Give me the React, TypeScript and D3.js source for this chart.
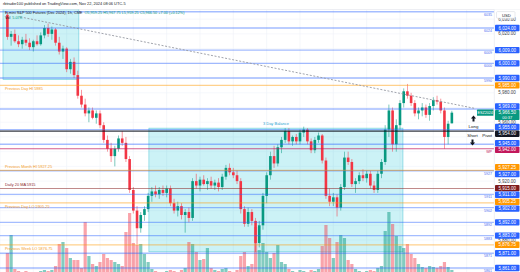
import React from 'react';
import * as d3 from 'd3';

// ---------- data ----------
const opens = [6033,6018,6020,6015,6013,6016,6014,6011,6015,6013,6019,6024,6020,6023,6014,6008,6010,5996,6001,5992,
5978,5972,5966,5968,5963,5966,5958,5948,5942,5937,5942,5949,5946,5935,5914,5900,5888,5897,5901,5910,
5913,5911,5914,5912,5915,5905,5900,5903,5897,5899,5895,5920,5917,5921,5918,5920,5917,5919,5916,5923,
5929,5926,5924,5920,5901,5891,5899,5893,5878,5890,5910,5924,5937,5932,5943,5948,5954,5947,5950,5947,
5953,5955,5947,5941,5948,5951,5934,5910,5906,5909,5902,5916,5936,5933,5918,5920,5924,5922,5925,5917,
5914,5925,5933,5955,5968,5945,5958,5973,5981,5978,5973,5966,5968,5970,5965,5971,5975,5974,5968,5950,5959.25];
const highs = [6035,6022,6023,6019,6018,6020,6017,6016,6019,6021,6026,6027,6025,6024,6018,6012,6011,6003,6004,5995,
5982,5976,5970,5970,5968,5968,5960,5951,5946,5944,5951,5954,5950,5937,5916,5903,5899,5903,5912,5916,
5917,5916,5917,5917,5917,5908,5906,5905,5901,5902,5922,5925,5923,5924,5922,5923,5921,5922,5925,5931,
5932,5929,5927,5922,5903,5902,5901,5895,5893,5912,5926,5940,5944,5945,5950,5956,5956,5951,5952,5955,
5957,5956,5949,5950,5953,5952,5936,5915,5912,5911,5918,5940,5940,5935,5922,5926,5928,5927,5927,5920,
5927,5935,5958,5972,5970,5962,5975,5983,5986,5980,5975,5970,5973,5972,5973,5977,5978,5976,5970,5961,5967.75];
const lows = [6016,6012,6014,6011,6010,6012,6009,6008,6012,6012,6017,6018,6016,6012,6006,6003,5994,5993,5990,5976,
5970,5964,5960,5962,5959,5956,5946,5940,5933,5930,5940,5944,5933,5912,5898,5877,5885,5893,5899,5906,
5909,5908,5910,5909,5903,5898,5896,5894,5885,5892,5893,5915,5913,5917,5914,5915,5914,5913,5914,5921,
5924,5922,5918,5898,5889,5889,5890,5872,5875,5887,5905,5921,5929,5930,5939,5946,5945,5944,5945,5945,
5950,5945,5939,5939,5946,5932,5908,5903,5903,5896,5900,5914,5931,5916,5912,5918,5920,5919,5915,5912,
5912,5922,5931,5950,5940,5940,5955,5970,5976,5971,5964,5962,5964,5963,5961,5968,5972,5966,5942,5945,5959.25];
const closes = [6018,6020,6015,6013,6016,6014,6011,6015,6013,6019,6024,6020,6023,6014,6008,6010,5996,6001,5992,5978,
5972,5966,5968,5963,5966,5958,5948,5942,5937,5942,5949,5946,5935,5914,5900,5888,5897,5901,5910,5913,
5911,5914,5912,5915,5905,5900,5903,5897,5899,5895,5920,5917,5921,5918,5920,5917,5919,5916,5923,5929,
5926,5924,5920,5901,5891,5899,5893,5878,5890,5910,5924,5937,5932,5943,5948,5954,5947,5950,5947,5953,
5955,5947,5941,5948,5951,5934,5910,5906,5909,5902,5916,5936,5933,5918,5920,5924,5922,5925,5917,5914,
5925,5933,5955,5968,5945,5958,5973,5981,5978,5973,5966,5968,5970,5965,5971,5975,5974,5968,5950,5959,5966.5];
const volumes = [23,41,7,5,4,5,4,3,4,5,6,5,6,10,32,34,28,18,16,16,
8,54,20,12,10,14,22,18,16,14,12,10,44,63,33,31,32,22,14,7,
5,4,4,5,6,5,4,6,8,34,32,24,16,17,28,8,6,5,7,8,
5,4,6,20,24,10,12,49,26,33,24,18,23,31,14,12,7,5,4,6,
5,4,6,5,7,30,51,38,18,34,41,38,16,12,7,5,4,5,6,5,
8,10,45,64,52,40,30,28,32,22,18,12,9,8,10,9,8,10,14,9,6];

const blueLevels = [6035, 6024, 6009, 6000, 5990, 5969, 5955, 5945, 5927, 5911, 5902, 5892, 5883, 5871, 5861];
const blueSmallLabelled = [6035, 6024, 6009, 6000, 5990, 5927, 5911, 5902, 5892, 5883, 5871, 5861];
const orangeLevels = [5985, 5927.25, 5905.25, 5876.75];
const orangeNames = ['Previous Day HI 5985', 'Previous Month HI 5927.25', 'Previous Day LO 5905.25', 'Previous Week LO 5876.75'];
const orangeAbove = [false, true, false, false];
const pivotLevel = 5954;
const wpLevel = 5942;
const maLevel = 5915;
const maName = 'Daily 20 MA 5915';
const lastPrice = 5966.5;
const countdown = '00:37';
const priceTicks = d3.range(5860, 6031, 10);
const gridTimes = d3.range(-2, 125, 9);
const trendTimes = [3.5, 126];
const trendPrices = [6031.5, 5969.5];
const boxTopLeft = { t0: -1.2, t1: 19.3, hi: 6037, lo: 5989 };
const boxBalance = { t0: 38.2, t1: 106.8, hi: 5956, lo: 5872 };
const headerText = 'rbtrader100 published on TradingView.com, Nov 22, 2024 08:06 UTC-5';
const legendName = 'E-mini S&P 500 Futures (Dec 2024), 1h, CME';
const legendValues = 'O5,959.25 H5,967.75 L5,959.25 C5,966.50 +7.00 (+0.12%)';
const volLegend = ['Vol', '5.07K'];
const symbolTag = 'ESZ2024';

export default function App() {
  const W = 520, H = 272;
  const plotR = 494, plotT = 9.5;
  const x = d3.scaleLinear().domain([-2, 124]).range([0, 466.667]);
  const y = d3.scaleLinear().domain([6024, 5861]).range([28, 268]);
  const vy = d3.scaleLinear().domain([0, 100]).range([276, 176]);
  const fmt = d3.format(',.2f');
  const up = '#089981', dn = '#f23645';
  const font = 'Liberation Sans, Arial, sans-serif';

  // axis labels
  type L = { p: number; y: number; h: number; fill: string; text: string; sub?: string };
  const labels: L[] = [];
  blueLevels.filter(p => p !== 6035).forEach(p => labels.push({ p, y: y(p), h: 6.4, fill: '#2962ff', text: fmt(p) }));
  orangeLevels.forEach(p => labels.push({ p, y: y(p), h: 6.4, fill: '#ff9800', text: fmt(p) }));
  labels.push({ p: pivotLevel, y: y(pivotLevel), h: 6.4, fill: '#131722', text: fmt(pivotLevel) });
  labels.push({ p: wpLevel, y: y(wpLevel), h: 6.4, fill: '#c2185b', text: fmt(wpLevel) });
  labels.push({ p: maLevel, y: y(maLevel), h: 6.4, fill: '#7f1d1d', text: fmt(maLevel) });
  labels.push({ p: lastPrice, y: y(lastPrice), h: 10, fill: up, text: fmt(lastPrice), sub: countdown });
  labels.sort((a, b) => a.y - b.y);
  for (let it = 0; it < 200; it++) {
    for (let k = 0; k < labels.length - 1; k++) {
      const a = labels[k], b = labels[k + 1];
      const md = (a.h + b.h) / 2 + 0.3;
      const d = b.y - a.y;
      if (d < md) { const o = md - d; a.y -= o / 2; b.y += o / 2; }
    }
  }
  const grayTicks = priceTicks.filter(t => labels.every(l => Math.abs(l.y - y(t)) > 3.5));

  const n = closes.length;
  const idx = d3.range(n);
  const pivotY = y(pivotLevel);

  return (
    <svg width={W} height={H} style={{ position: 'absolute', left: 0, top: 0, background: '#fff' }} fontFamily={font}>
      <defs>
        <clipPath id="plot"><rect x={0} y={plotT} width={plotR} height={H - plotT} /></clipPath>
      </defs>
      <rect x={0} y={0} width={W} height={H} fill="#fff" />
      <text x={3} y={5.2} fontSize={3.9} fill="#131722">{headerText}</text>
      <line x1={0} x2={W} y1={plotT} y2={plotT} stroke="#e0e3eb" strokeWidth={0.6} />
      <g clipPath="url(#plot)">
        {gridTimes.map(t => <line key={'gx' + t} x1={x(t)} x2={x(t)} y1={plotT} y2={H} stroke="#eef1f7" strokeWidth={0.6} />)}
        {priceTicks.map(t => <line key={'gy' + t} x1={0} x2={plotR} y1={y(t)} y2={y(t)} stroke="#f0f3fa" strokeWidth={0.6} />)}
        {[boxTopLeft, boxBalance].map((b, k) => (
          <rect key={'bx' + k} x={x(b.t0)} y={y(b.hi)} width={x(b.t1) - x(b.t0)} height={y(b.lo) - y(b.hi)}
            fill="rgba(0,188,212,0.2)" stroke="rgba(0,172,193,0.55)" strokeWidth={0.6} />
        ))}
        {idx.map(i => (
          <rect key={'v' + i} x={x(i) - 1.6} width={3.2} y={vy(volumes[i])} height={vy(0) - vy(volumes[i])}
            fill={closes[i] >= opens[i] ? 'rgba(8,153,129,0.5)' : 'rgba(242,54,69,0.45)'} />
        ))}
        {idx.map(i => {
          const c = closes[i] >= opens[i] ? up : dn;
          const top = y(Math.max(opens[i], closes[i]));
          const bot = y(Math.min(opens[i], closes[i]));
          return (
            <g key={'c' + i}>
              <line x1={x(i)} x2={x(i)} y1={y(highs[i])} y2={y(lows[i])} stroke={c} strokeWidth={0.7} opacity={0.75} />
              <rect x={x(i) - 1.3} width={2.6} y={top} height={Math.max(0.7, bot - top)} fill={c} />
            </g>
          );
        })}
        {blueLevels.map(p => <line key={'bl' + p} x1={0} x2={plotR} y1={y(p)} y2={y(p)} stroke="#2962ff" strokeOpacity={0.42} strokeWidth={1.4} />)}
        {orangeLevels.map(p => <line key={'ol' + p} x1={0} x2={plotR} y1={y(p)} y2={y(p)} stroke="#ff9800" strokeOpacity={0.45} strokeWidth={1.2} />)}
        <line x1={0} x2={plotR} y1={y(wpLevel)} y2={y(wpLevel)} stroke="#c2185b" strokeOpacity={0.7} strokeWidth={1.2} />
        <line x1={0} x2={plotR} y1={y(maLevel)} y2={y(maLevel)} stroke="#8d2a2a" strokeOpacity={0.55} strokeWidth={1.2} />
        <line x1={0} x2={plotR} y1={pivotY} y2={pivotY} stroke="#131722" strokeOpacity={0.85} strokeWidth={1.2} />
        <line x1={x(trendTimes[0])} y1={y(trendPrices[0])} x2={x(trendTimes[1])} y2={y(trendPrices[1])}
          stroke="#9598a1" strokeWidth={0.9} strokeDasharray="2 1.6" />
        {orangeLevels.map((p, k) => (
          <text key={'on' + p} x={5} y={y(p) + (orangeAbove[k] ? -3.6 : 3.2)} dominantBaseline="central" fontSize={3.9} fill="#f39c1f">{orangeNames[k]}</text>
        ))}
        <text x={5} y={y(maLevel) - 3.8} dominantBaseline="central" fontSize={3.9} fill="#8d2a2a">{maName}</text>
        {blueSmallLabelled.map(p => (
          <text key={'bs' + p} x={492} y={y(p) + 3} textAnchor="end" dominantBaseline="central" fontSize={3.6} fill="#4a6cf0">{String(p)}</text>
        ))}
        <text x={492} y={y(wpLevel) + 3.3} textAnchor="end" dominantBaseline="central" fontSize={3.6} fill="#c2185b">WP</text>
        <text x={(x(boxBalance.t0) + x(boxBalance.t1)) / 2} y={y(boxBalance.hi) - 4.2} textAnchor="middle" dominantBaseline="central" fontSize={4} fill="#2a9fd0">3 Day Balance</text>
        {/* Long / Short Pivot annotations */}
        <path d={`M${473.5},${pivotY - 15.5} l2.6,3 h-1.6 v3 h-2 v-3 h-1.6 z`} fill="#131722" />
        <text x={473.5} y={pivotY - 4.6} textAnchor="middle" dominantBaseline="central" fontSize={4.4} fill="#131722">Long</text>
        <text x={472.5} y={pivotY + 4} textAnchor="middle" dominantBaseline="central" fontSize={4.4} fill="#131722">Short</text>
        <text x={492} y={pivotY + 4} textAnchor="end" dominantBaseline="central" fontSize={4.4} fill="#131722">Pivot</text>
        <path d={`M${472.5},${pivotY + 14.5} l2.6,-3 h-1.6 v-3 h-2 v3 h-1.6 z`} fill="#131722" />
        <rect x={477} y={y(lastPrice) - 3.1} width={16.5} height={6.2} rx={0.6} fill={up} />
        <text x={485.2} y={y(lastPrice)} textAnchor="middle" dominantBaseline="central" fontSize={3.7} fill="#fff">{symbolTag}</text>
      </g>
      {/* legend */}
      <text x={5} y={13.6} fontSize={3.8} fill="#131722">{legendName}
        <tspan fill={up} dx={2}>{legendValues}</tspan>
      </text>
      <text x={5} y={19.4} fontSize={3.8} fill="#131722">{volLegend[0]}
        <tspan fill={up} dx={2}>{volLegend[1]}</tspan>
      </text>
      {/* price axis */}
      <rect x={plotR} y={plotT} width={W - plotR} height={H - plotT} fill="#fff" />
      <line x1={plotR + 0.3} x2={plotR + 0.3} y1={plotT} y2={H} stroke="#e0e3eb" strokeWidth={0.6} />
      {grayTicks.map(t => (
        <text key={'gt' + t} x={507} y={y(t)} textAnchor="middle" dominantBaseline="central" fontSize={4.5} fill="#3a3e4a">{fmt(t)}</text>
      ))}
      {labels.map(l => (
        <g key={'lb' + l.p}>
          <rect x={495} y={l.y - l.h / 2} width={24.5} height={l.h} rx={0.8} fill={l.fill} />
          {l.sub ? (
            <>
              <text x={507.2} y={l.y - 2.3} textAnchor="middle" dominantBaseline="central" fontSize={4.5} fill="#fff">{l.text}</text>
              <text x={507.2} y={l.y + 2.5} textAnchor="middle" dominantBaseline="central" fontSize={4} fill="#fff">{l.sub}</text>
            </>
          ) : (
            <text x={507.2} y={l.y + 0.1} textAnchor="middle" dominantBaseline="central" fontSize={4.5} fill="#fff">{l.text}</text>
          )}
        </g>
      ))}
      <rect x={496.5} y={11.6} width={18.5} height={6.6} rx={1} fill="#fff" stroke="#d1d4dc" strokeWidth={0.5} />
      <text x={502} y={15} dominantBaseline="central" fontSize={4.2} fill="#131722">USD</text>
    </svg>
  );
}
